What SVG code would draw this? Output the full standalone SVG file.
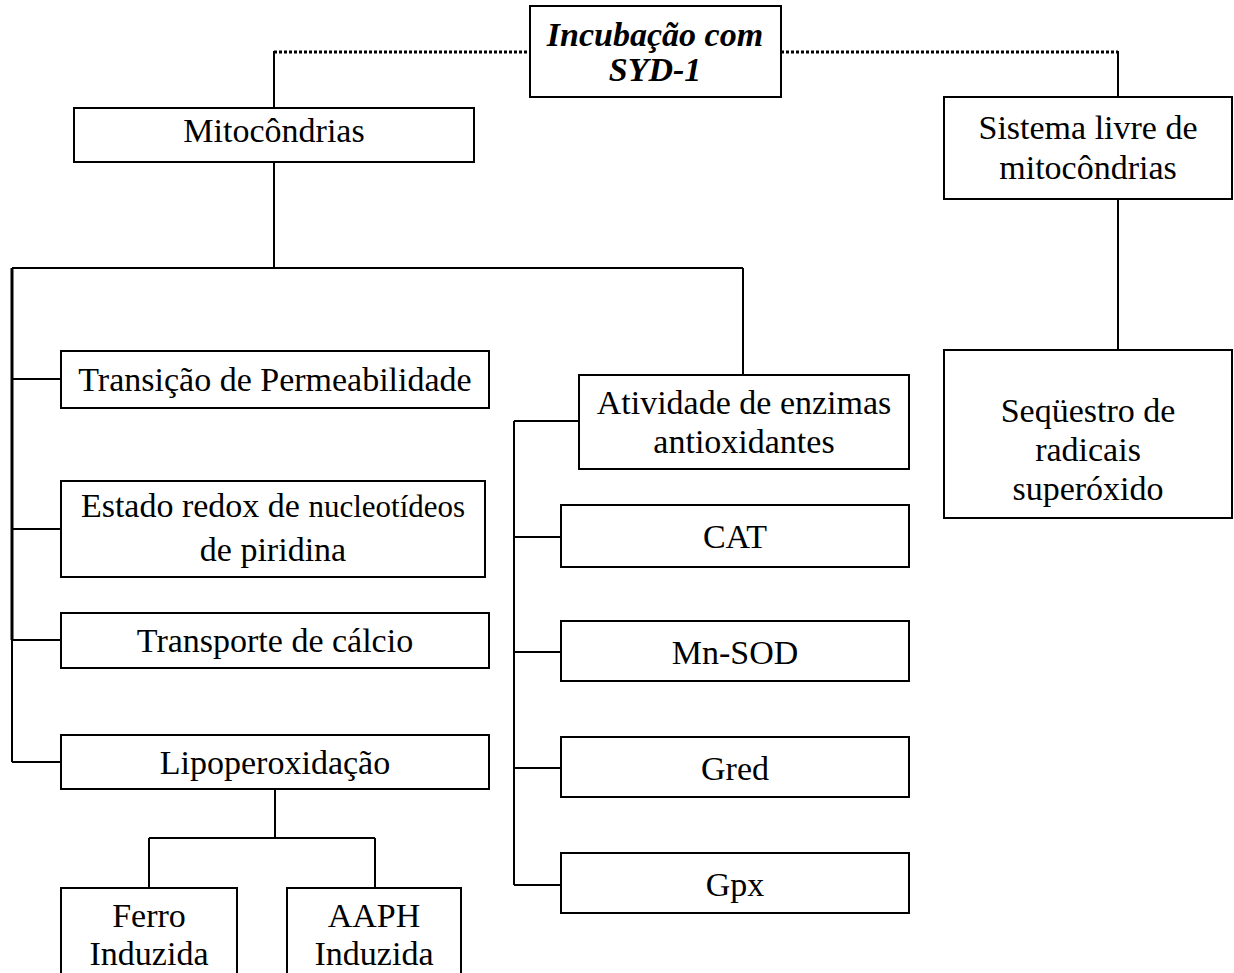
<svg xmlns="http://www.w3.org/2000/svg" width="1234" height="973" viewBox="0 0 1234 973">
<style>
.box{fill:#fff;stroke:#000;stroke-width:2}
.ln{fill:none;stroke:#000;stroke-width:2}
.dot{fill:none;stroke:#000;stroke-width:3;stroke-dasharray:3 2}
text{font-family:"Liberation Serif","Times New Roman",serif;font-size:34px;fill:#000;text-anchor:middle}
.bi{font-weight:bold;font-style:italic}
</style>
<rect width="1234" height="973" fill="#fff"/>
<g id="connectors">
<path class="dot" d="M274 52H530M781 52H1118"/>
<path class="ln" d="M274 51V108M1118 51V97"/>
<path class="ln" d="M274 162V268M12 268H743M743 268V375"/>
<path class="ln" d="M12 268V640" style="stroke-width:3"/>
<path class="ln" d="M12 640V762"/>
<path class="ln" d="M12 379H61M12 529H61M12 640H61M12 762H61"/>
<path class="ln" d="M275 789V838M149 838H375M149 838V888M375 838V888"/>
<path class="ln" d="M514 421V885M514 421H579M514 537H561M514 652H561M514 768H561M514 885H561"/>
<path class="ln" d="M1118 199V350"/>
</g>
<g id="n-incubacao"><rect class="box" x="530" y="6" width="251" height="91"/><text class="bi" x="655" y="46">Incubação com</text><text class="bi" x="655" y="81">SYD-1</text></g>
<g id="n-mitocondrias"><rect class="box" x="74" y="108" width="400" height="54"/><text x="274" y="142">Mitocôndrias</text></g>
<g id="n-sistema"><rect class="box" x="944" y="97" width="288" height="102"/><text x="1088" y="139">Sistema livre de</text><text x="1088" y="179">mitocôndrias</text></g>
<g id="n-sequestro"><rect class="box" x="944" y="350" width="288" height="168"/><text x="1088" y="422">Seqüestro de</text><text x="1088" y="461">radicais</text><text x="1088" y="500">superóxido</text></g>
<g id="n-transicao"><rect class="box" x="61" y="351" width="428" height="57"/><text x="275" y="391">Transição de Permeabilidade</text></g>
<g id="n-estado"><rect class="box" x="61" y="481" width="424" height="96"/><text x="273" y="517">Estado redox de <tspan style="font-size:31px">nucleotídeos</tspan></text><text x="273" y="561">de piridina</text></g>
<g id="n-transporte"><rect class="box" x="61" y="613" width="428" height="55"/><text x="275" y="652">Transporte de cálcio</text></g>
<g id="n-lipo"><rect class="box" x="61" y="735" width="428" height="54"/><text x="275" y="774">Lipoperoxidação</text></g>
<g id="n-ferro"><rect class="box" x="61" y="888" width="176" height="95"/><text x="149" y="927">Ferro</text><text x="149" y="965">Induzida</text></g>
<g id="n-aaph"><rect class="box" x="287" y="888" width="174" height="95"/><text x="374" y="927">AAPH</text><text x="374" y="965">Induzida</text></g>
<g id="n-atividade"><rect class="box" x="579" y="375" width="330" height="94"/><text x="744" y="414">Atividade de enzimas</text><text x="744" y="453">antioxidantes</text></g>
<g id="n-cat"><rect class="box" x="561" y="505" width="348" height="62"/><text x="735" y="548">CAT</text></g>
<g id="n-mnsod"><rect class="box" x="561" y="621" width="348" height="60"/><text x="735" y="664">Mn-SOD</text></g>
<g id="n-gred"><rect class="box" x="561" y="737" width="348" height="60"/><text x="735" y="780">Gred</text></g>
<g id="n-gpx"><rect class="box" x="561" y="853" width="348" height="60"/><text x="735" y="896">Gpx</text></g>
</svg>
